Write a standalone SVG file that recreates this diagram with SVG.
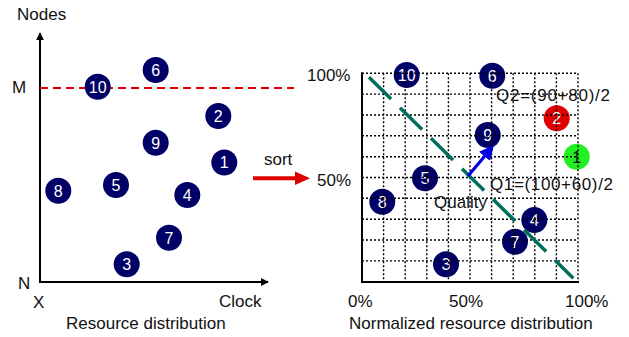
<svg xmlns="http://www.w3.org/2000/svg" width="629" height="337" viewBox="0 0 629 337">
  <style>
    text { font-family: "Liberation Sans", Arial, sans-serif; fill: #111; }
    .lbl { font-size: 17px; }
    .num { font-size: 16px; fill: #fff; text-anchor: middle; }
    .dark { fill: #111; }
    .node { fill: #000066; }
    .axis { stroke: #000; stroke-width: 2; fill: none; }
    .grid { stroke: #000; stroke-width: 1.4; stroke-dasharray: 2 2; fill: none; }
  </style>
  <defs>
    <marker id="tip" viewBox="0 0 10 10" refX="9" refY="5" markerWidth="4" markerHeight="4" orient="auto" markerUnits="strokeWidth">
      <path d="M0,0 L10,5 L0,10 z" fill="#000"/>
    </marker>
    <marker id="blueTip" viewBox="0 0 10 10" refX="8" refY="5" markerWidth="4.5" markerHeight="4.5" orient="auto" markerUnits="strokeWidth">
      <path d="M0,0 L10,5 L0,10 z" fill="#0000e0"/>
    </marker>
  </defs>

  <!-- left chart: axes and threshold -->
  <g id="left-axes">
    <line class="axis" x1="40" y1="282" x2="40" y2="33" marker-end="url(#tip)"/>
    <line class="axis" x1="39" y1="282" x2="268" y2="282" marker-end="url(#tip)"/>
    <line x1="40" y1="88" x2="294" y2="88" stroke="#e00000" stroke-width="2" stroke-dasharray="8 5"/>
    <text class="lbl" x="17" y="20">Nodes</text>
    <text class="lbl" x="12" y="93">M</text>
    <text class="lbl" x="18" y="289">N</text>
    <text class="lbl" x="33" y="308">X</text>
    <text class="lbl" x="219" y="307">Clock</text>
    <text class="lbl" x="66" y="329">Resource distribution</text>
  </g>

  <!-- left chart: nodes -->
  <g id="l10"><circle class="node" cx="97.7" cy="86.7" r="13"/><text class="num" x="97.7" y="92.5">10</text></g>
  <g id="l6"><circle class="node" cx="155.7" cy="70" r="13"/><text class="num" x="155.7" y="75.8">6</text></g>
  <g id="l2"><circle class="node" cx="218.3" cy="116" r="13"/><text class="num" x="218.3" y="121.8">2</text></g>
  <g id="l9"><circle class="node" cx="155.7" cy="142.7" r="13"/><text class="num" x="155.7" y="148.5">9</text></g>
  <g id="l1"><circle class="node" cx="224.3" cy="162.5" r="13"/><text class="num" x="224.3" y="168.3">1</text></g>
  <g id="l8"><circle class="node" cx="58.3" cy="190.7" r="13"/><text class="num" x="58.3" y="196.5">8</text></g>
  <g id="l5"><circle class="node" cx="116" cy="185" r="13"/><text class="num" x="116" y="190.8">5</text></g>
  <g id="l4"><circle class="node" cx="187.3" cy="195" r="13"/><text class="num" x="187.3" y="200.8">4</text></g>
  <g id="l7"><circle class="node" cx="169" cy="237.7" r="13"/><text class="num" x="169" y="243.5">7</text></g>
  <g id="l3"><circle class="node" cx="126.7" cy="264.3" r="13"/><text class="num" x="126.7" y="270.1">3</text></g>

  <!-- sort step -->
  <g id="sort">
    <line x1="253" y1="178.3" x2="297" y2="178.3" stroke="#e00000" stroke-width="4"/>
    <path d="M295,171.5 L310,178.3 L295,185 z" fill="#e00000"/>
    <text class="lbl" x="264" y="165">sort</text>
  </g>

  <!-- right chart: nodes -->
  <g id="r10"><circle class="node" cx="406.7" cy="75" r="13"/><text class="num" x="406.7" y="80.8">10</text></g>
  <g id="r6"><circle class="node" cx="492.3" cy="75.7" r="13"/><text class="num" x="492.3" y="81.5">6</text></g>
  <g id="r2"><circle cx="556.7" cy="118.3" r="13" fill="#e00000"/><text class="num" x="556.7" y="124.1">2</text></g>
  <g id="r9"><circle class="node" cx="487.7" cy="135" r="13"/><text class="num" x="487.7" y="140.8">9</text></g>
  <g id="r1"><circle cx="576.7" cy="156.7" r="13" fill="#22ee22"/><text class="num dark" x="576.7" y="162.5">1</text></g>
  <g id="r5"><circle class="node" cx="425" cy="178.3" r="13"/><text class="num" x="425" y="184.1">5</text></g>
  <g id="r8"><circle class="node" cx="382.3" cy="201.7" r="13"/><text class="num" x="382.3" y="207.5">8</text></g>
  <g id="r3"><circle class="node" cx="446" cy="264.3" r="13"/><text class="num" x="446" y="270.1">3</text></g>
  <g id="r4"><circle class="node" cx="534.3" cy="220" r="13"/><text class="num" x="534.3" y="225.8">4</text></g>
  <g id="r7"><circle class="node" cx="515" cy="241.7" r="13"/><text class="num" x="515" y="247.5">7</text></g>

  <!-- right chart: dotted grid, drawn over the nodes -->
  <g id="grid">
    <path class="grid" d="M383.6,73.3V281.7 M405.2,73.3V281.7 M426.8,73.3V281.7 M448.4,73.3V281.7 M470,73.3V281.7 M491.6,73.3V281.7 M513.2,73.3V281.7 M534.8,73.3V281.7 M556.4,73.3V281.7 M578,73.3V281.7"/>
    <path class="grid" d="M362,73.3H578 M362,94.1H578 M362,115H578 M362,135.8H578 M362,156.7H578 M362,177.5H578 M362,198.3H578 M362,219.2H578 M362,240H578 M362,260.9H578"/>
  </g>

  <!-- right chart: axes and labels -->
  <g id="right-axes">
    <path class="axis" d="M362,72.3V282H579"/>
    <text class="lbl" x="307" y="81">100%</text>
    <text class="lbl" x="317" y="186">50%</text>
    <text class="lbl" x="348" y="307">0%</text>
    <text class="lbl" x="449" y="307">50%</text>
    <text class="lbl" x="565" y="307">100%</text>
    <text class="lbl" x="349" y="329">Normalized resource distribution</text>
  </g>

  <!-- connectors: diagonal cut and quality arrow -->
  <g id="connectors">
    <line x1="369" y1="77.3" x2="573.3" y2="278.3" stroke="#006e5c" stroke-width="3.5" stroke-dasharray="31 12.5"/>
    <line x1="468" y1="176" x2="492" y2="147.5" stroke="#0000e0" stroke-width="3.2" marker-end="url(#blueTip)"/>
  </g>

  <g id="annotations">
    <text class="lbl" x="496" y="101" textLength="114">Q2=(90+80)/2</text>
    <text class="lbl" x="490" y="190" textLength="123">Q1=(100+60)/2</text>
    <text class="lbl" x="434" y="208">Quality</text>
  </g>
</svg>
